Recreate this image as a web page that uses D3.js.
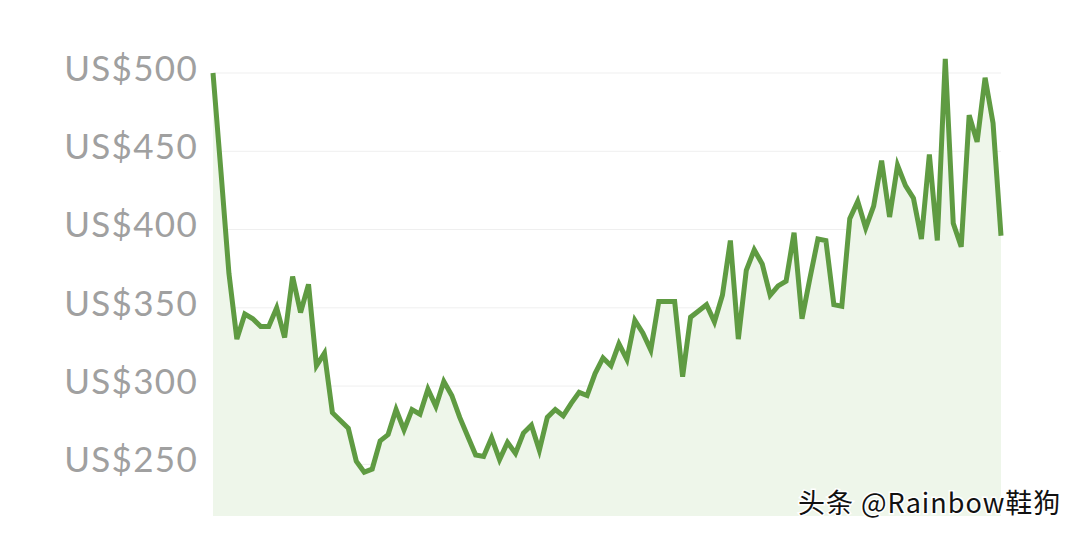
<!DOCTYPE html>
<html>
<head>
<meta charset="utf-8">
<script src="https://cdn.jsdelivr.net/npm/d3@7"></script>
<style>
  body { margin: 0; background: #fff; }
  svg { display: block; }
</style>
</head>
<body>
<div id="chart"></div>
<script>
// weekly resale price (US$)
const prices = [
  500, 437, 372, 330, 346, 343, 338, 338, 350, 331,
  370, 347, 365, 313, 321, 283, 278, 273, 252, 245,
  247, 265, 269, 285, 272, 285, 282, 298, 287, 303,
  294, 280, 268, 256, 255, 267, 253, 264, 257, 270,
  275, 259, 280, 285, 281, 289, 296, 294, 308, 318,
  313, 327, 317, 342, 334, 323, 354, 354, 354, 306,
  344, 348, 352, 341, 358, 393, 330, 374, 387, 378,
  358, 364, 367, 398, 343, 369, 394, 393, 352, 351,
  407, 418, 401, 415, 444, 408, 441, 428, 420, 394,
  448, 393, 509, 404, 389, 473, 456, 497, 468, 396
];
const weeks = prices.map((d, i) => i);
const yTicks = [250, 300, 350, 400, 450, 500];
const yMin = 217;

var svgWidth = 1080;
var svgHeight = 537;

var svg = d3.select("#chart")
  .append("svg")
  .attr("width", svgWidth)
  .attr("height", svgHeight);

var x = d3.scaleLinear()
  .domain([0, weeks.length - 1])
  .range([213, 1001]);

var y = d3.scaleLinear()
  .domain([yMin, 500])
  .range([516, 73]);

// gridlines
svg.append("g")
  .selectAll("line")
  .data(yTicks)
  .enter()
  .append("line")
  .attr("x1", 213)
  .attr("x2", 1001)
  .attr("y1", d => y(d))
  .attr("y2", d => y(d))
  .attr("stroke", "#efefef")
  .attr("stroke-width", 1);

// left axis labels
var leftAxis = d3.axisLeft(y)
  .tickValues(yTicks)
  .tickSize(0)
  .tickPadding(0)
  .tickFormat(d => "US$" + d);

svg.append("g")
  .attr("transform", "translate(198,0)")
  .call(leftAxis)
  .call(g => g.select(".domain").remove())
  .selectAll("text")
  .attr("dy", "0.35em")
  .attr("y", -5)
  .attr("fill", "#a0a0a0")
  .style("font-family", "Lato, 'Open Sans', sans-serif")
  .style("font-size", "35px")
  .style("letter-spacing", "1.3px");

// area under the line
var area = d3.area()
  .x((d, i) => x(weeks[i]))
  .y0(y(yMin))
  .y1(d => y(d));

svg.append("path")
  .datum(prices)
  .attr("d", area)
  .attr("fill", "#eef6ea");

var line = d3.line()
  .x((d, i) => x(weeks[i]))
  .y(d => y(d));

svg.append("path")
  .datum(prices)
  .attr("d", line)
  .attr("fill", "none")
  .attr("stroke", "#5f9b42")
  .attr("stroke-width", 5)
  .attr("stroke-linejoin", "miter");

// watermark
svg.append("text")
  .attr("x", 798)
  .attr("y", 513)
  .attr("fill", "#111")
  .attr("stroke", "#fff")
  .attr("stroke-width", 3)
  .attr("paint-order", "stroke")
  .style("font-family", "'Noto Sans CJK SC', sans-serif")
  .style("font-size", "27px")
  .style("letter-spacing", "1px")
  .text("头条 @Rainbow鞋狗");
</script>
</body>
</html>
